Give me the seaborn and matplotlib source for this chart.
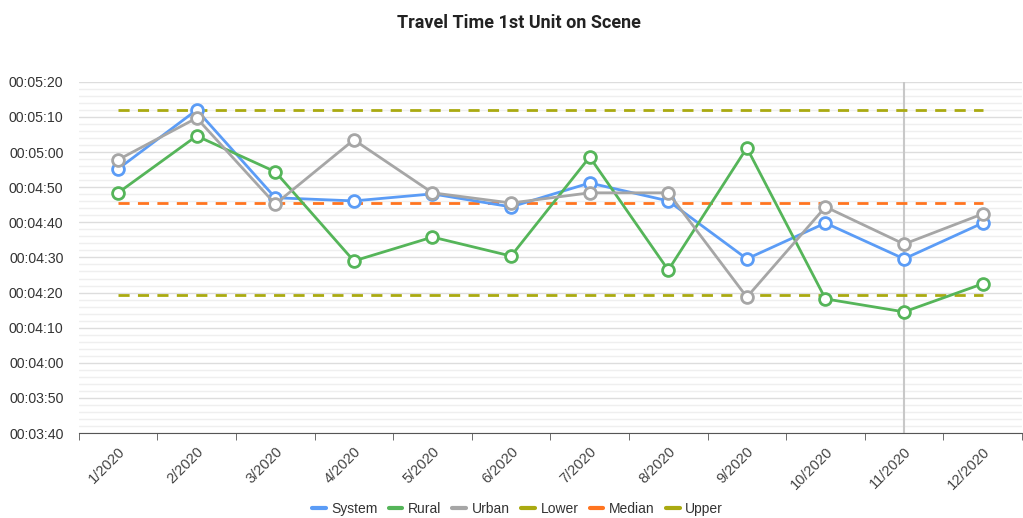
import pandas as pd
import numpy as np
import seaborn as sns
import matplotlib.pyplot as plt
from matplotlib.lines import Line2D
from matplotlib.ticker import MultipleLocator, FuncFormatter

months = ['1/2020', '2/2020', '3/2020', '4/2020', '5/2020', '6/2020',
          '7/2020', '8/2020', '9/2020', '10/2020', '11/2020', '12/2020']

# travel times in seconds
system = [295.2, 312.0, 287.0, 286.1, 288.1, 284.4, 291.2, 286.1, 269.6, 279.8, 269.6, 279.8]
rural = [288.4, 304.6, 294.4, 269.0, 275.8, 270.4, 298.6, 266.4, 301.2, 258.2, 254.5, 262.5]
urban = [297.8, 309.7, 285.2, 303.5, 288.4, 285.5, 288.4, 288.4, 258.7, 284.4, 273.8, 282.4]
lower = 259.3
median = 285.5
upper = 312.0

sns.set_style('white')
plt.rcParams['font.family'] = ['Liberation Sans', 'DejaVu Sans']

fig, ax = plt.subplots(figsize=(10.23, 5.18), dpi=100)
fig.subplots_adjust(left=0.077, right=0.999, top=0.842, bottom=0.164)

x = np.arange(len(months))
series = [('System', system, '#5b9cf6'),
          ('Rural', rural, '#55b559'),
          ('Urban', urban, '#a6a6a6')]
refs = [('Lower', lower, '#aaaa11'),
        ('Median', median, '#ff7420'),
        ('Upper', upper, '#aaaa11')]

for name, vals, col in series:
    sns.lineplot(x=x, y=vals, ax=ax, color=col, linewidth=2, marker='o',
                 markersize=8.5, markerfacecolor='white', markeredgecolor=col,
                 markeredgewidth=2, zorder=3)
for name, val, col in refs:
    sns.lineplot(x=x, y=[val] * len(months), ax=ax, color=col, linewidth=2,
                 dashes=(4, 3), zorder=2)

# hover crosshair on 11/2020
ax.axvline(10, color='#c8c8c8', linewidth=1.5, zorder=1)

ax.set_xlim(-0.5, 11.5)
ax.set_ylim(220, 320)
ax.yaxis.set_major_locator(MultipleLocator(10))
ax.yaxis.set_minor_locator(MultipleLocator(2))
ax.yaxis.set_major_formatter(FuncFormatter(
    lambda v, p: '%02d:%02d:%02d' % (v // 3600, (v % 3600) // 60, v % 60)))
ax.grid(axis='y', which='major', color='#dddddd', linewidth=1)
ax.grid(axis='y', which='minor', color='#efefef', linewidth=1)
ax.set_axisbelow(True)

ax.set_xticks(x)
ax.set_xticklabels(months, rotation=45, ha='right', rotation_mode='anchor')
ax.set_xticks(np.arange(-0.5, 12, 1), minor=True)
ax.tick_params(axis='x', which='major', length=0, labelsize=10.5, colors='#444444', pad=8)
ax.tick_params(axis='x', which='minor', length=5, color='#555555', direction='out', bottom=True)
ax.tick_params(axis='y', which='both', length=0, labelsize=10.2, colors='#333333', pad=11)

for s in ['top', 'right', 'left']:
    ax.spines[s].set_visible(False)
ax.spines['bottom'].set_color('#555555')

ax.set_title('Travel Time 1st Unit on Scene', fontsize=13, fontweight='bold',
             family=['Roboto', 'DejaVu Sans'], color='#222222', x=0.467, y=1.13)

handles = [Line2D([], [], color=c, linewidth=3) for _, _, c in series + refs]
labels = [n for n, _, _ in series + refs]
ax.legend(handles, labels, loc='center', bbox_to_anchor=(0.465, -0.215), ncol=6,
          frameon=False, fontsize=10, handlelength=1.0, handletextpad=0.4,
          columnspacing=0.8, labelcolor='#333333')

plt.savefig('out.png', dpi=100)
